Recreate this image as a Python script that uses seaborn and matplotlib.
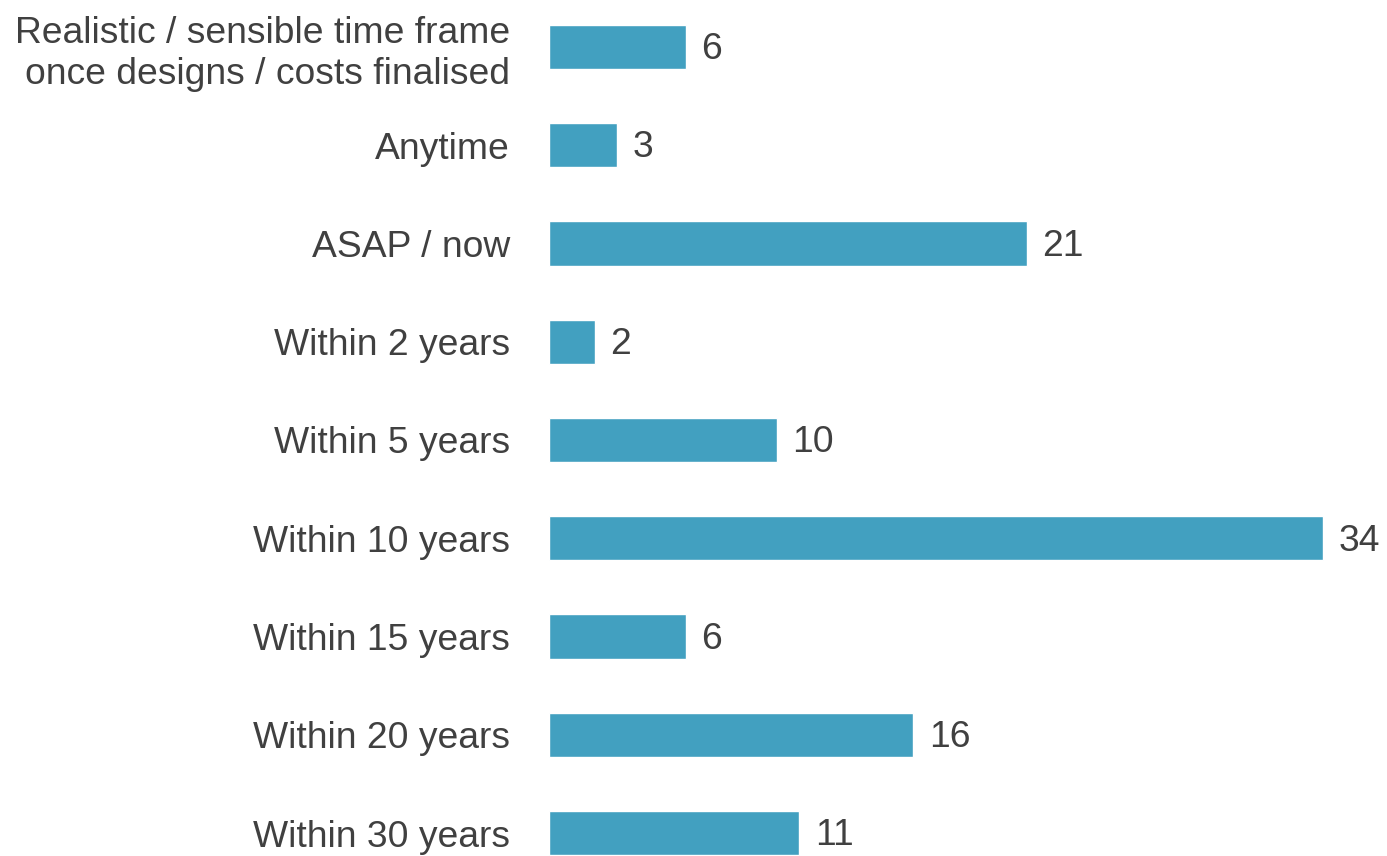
import matplotlib
matplotlib.use("Agg")
import matplotlib.pyplot as plt
import seaborn as sns
import pandas as pd

categories = [
    "Realistic / sensible time frame\nonce designs / costs finalised",
    "Anytime",
    "ASAP / now",
    "Within 2 years",
    "Within 5 years",
    "Within 10 years",
    "Within 15 years",
    "Within 20 years",
    "Within 30 years",
]
counts = [6, 3, 21, 2, 10, 34, 6, 16, 11]

df = pd.DataFrame({"category": categories, "count": counts})

sns.set_style("white")
plt.rcParams['font.family'] = ['Liberation Sans', 'DejaVu Sans']

text_color = "#404040"
bar_color = "#42A0C0"

fig = plt.figure(figsize=(13.87, 8.56), dpi=100)
ax = fig.add_axes([549 / 1387, 0, 1 - 549 / 1387, 1])

sns.barplot(data=df, x="count", y="category", orient="h", color=bar_color,
            width=0.45, saturation=1, ax=ax)

# value labels just right of each bar
for bar, val in zip(ax.patches, counts):
    ax.annotate(str(val), (bar.get_width(), bar.get_y() + bar.get_height() / 2),
                xytext=(11, -2), textcoords="offset points",
                ha="left", va="center", fontsize=26.8, color=text_color)

ax.set_xlim(0, 36.8)
ax.set_ylim(8.234, -0.478)
ax.set_xlabel("")
ax.set_ylabel("")
ax.set_xticks([])
ax.tick_params(axis="y", length=0, pad=28, labelsize=26.8, labelcolor=text_color)
for lbl in ax.get_yticklabels():
    lbl.set_linespacing(1.22)
sns.despine(ax=ax, left=True, bottom=True)

fig.savefig("out.png", dpi=100)
